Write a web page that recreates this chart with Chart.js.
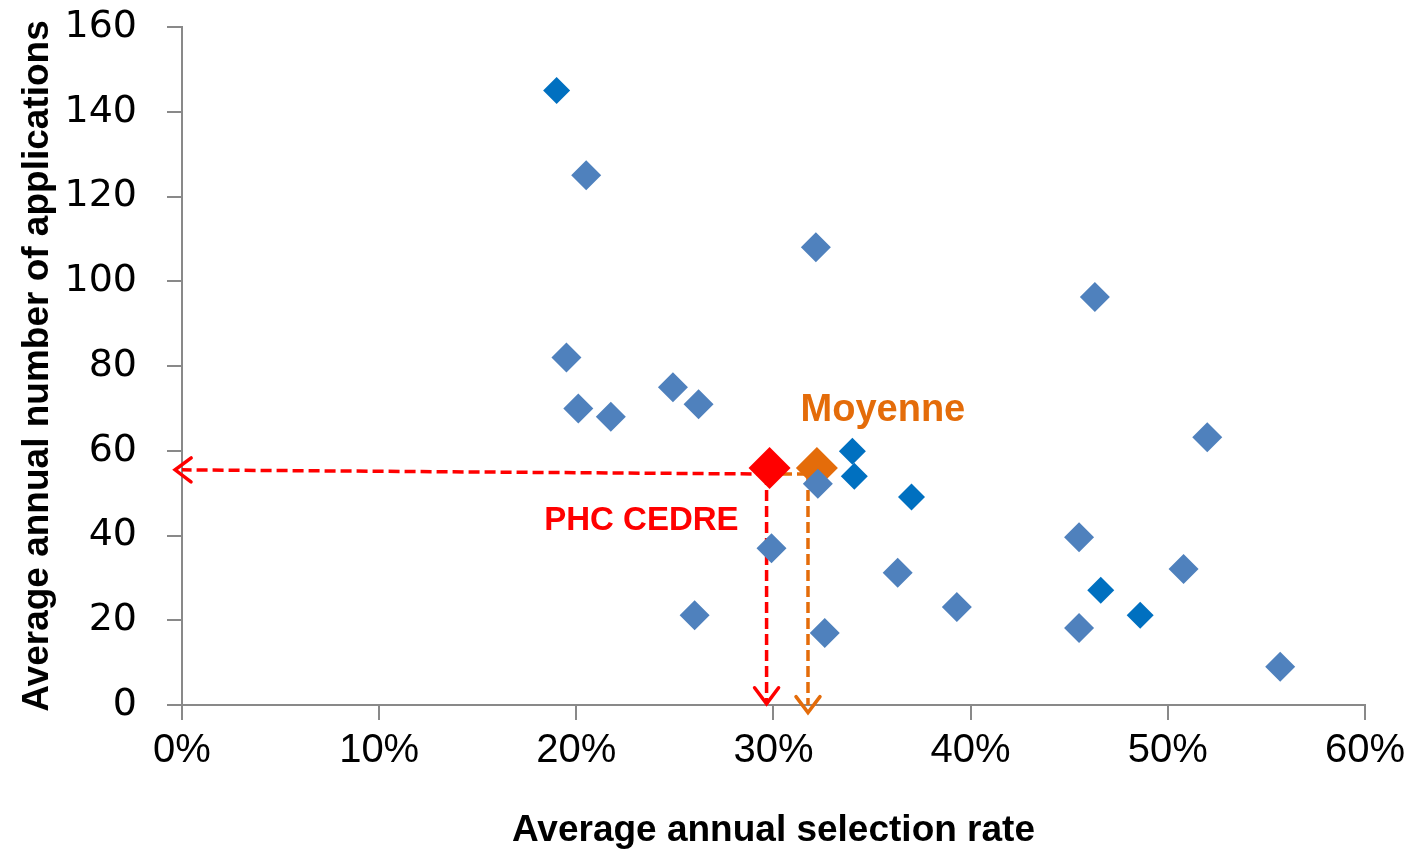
<!DOCTYPE html>
<html lang="en">
<head>
    <meta charset="UTF-8">
    <title>Applications vs selection rate</title>
    <script src="https://cdn.jsdelivr.net/npm/chart.js"></script>
    <style>
        html, body { margin: 0; padding: 0; background: #fff; }
        #wrap { width: 1412px; height: 849px; }
    </style>
</head>
<body>
    <div id="wrap"><canvas id="scatter"></canvas></div>
    <script>
        // programmes (light blue markers)
        const rateA = [20.5, 32.15, 46.3, 19.5, 20.1, 21.75, 24.9, 26.2, 52.0, 32.25, 29.9, 45.5, 36.3, 50.8, 26.0, 39.3, 32.6, 45.5, 55.7];
        const appsA = [125, 108, 96.3, 82, 70, 68, 75, 71, 63.2, 52.2, 37, 39.6, 31.2, 32.1, 21.2, 23.1, 17, 18.2, 9];
        // programmes (dark blue markers)
        const rateB = [19.0, 34.0, 34.1, 37.0, 46.6, 48.6];
        const appsB = [145, 59.9, 54, 49.1, 27.1, 21.2];
        // highlighted points
        const phcCedre = { rate: 29.8, apps: 55.9 };
        const moyenne = { rate: 32.2, apps: 55.9 };
        // dashed guide lines (rate, apps)
        const redHoriz = [[29.7, 54.5], [-0.35, 55.5]];
        const orangeHoriz = [[31.75, 54.5], [29.7, 54.5]];
        const redVert = [[29.65, 54.5], [29.65, 0.3]];
        const orangeVert = [[31.75, 54.5], [31.75, -1.8]];
        const xTicks = [0, 10, 20, 30, 40, 50, 60];

        const pts = (xs, ys) => xs.map((x, i) => ({ x: x, y: ys[i] }));
        const seg = s => s.map(p => ({ x: p[0], y: p[1] }));

        const arrowPlugin = {
            id: 'arrows',
            afterDatasetsDraw(chart) {
                const ctx = chart.ctx;
                chart.data.datasets.forEach((ds, i) => {
                    if (!ds.arrow) return;
                    const meta = chart.getDatasetMeta(i);
                    const n = meta.data.length;
                    const a = meta.data[n - 2], b = meta.data[n - 1];
                    const ang = Math.atan2(b.y - a.y, b.x - a.x);
                    const back = 16, side = 12;
                    ctx.save();
                    ctx.strokeStyle = ds.borderColor;
                    ctx.lineWidth = 3.5;
                    ctx.lineCap = 'round';
                    ctx.lineJoin = 'miter';
                    ctx.beginPath();
                    const bx = b.x - Math.cos(ang) * back, by = b.y - Math.sin(ang) * back;
                    ctx.moveTo(bx - Math.sin(ang) * side, by + Math.cos(ang) * side);
                    ctx.lineTo(b.x, b.y);
                    ctx.lineTo(bx + Math.sin(ang) * side, by - Math.cos(ang) * side);
                    ctx.stroke();
                    ctx.restore();
                });
            }
        };

        const labelPlugin = {
            id: 'pointLabels',
            afterDatasetsDraw(chart) {
                const ctx = chart.ctx;
                const xs = chart.scales.x, ys = chart.scales.y;
                const items = [
                    { text: 'Moyenne', x: 35.55, y: 69.6, color: '#E46C0A', size: 38 },
                    { text: 'PHC CEDRE', x: 23.3, y: 43.4, color: '#FF0000', size: 33 }
                ];
                ctx.save();
                ctx.textAlign = 'center';
                ctx.textBaseline = 'middle';
                items.forEach(it => {
                    ctx.font = 'bold ' + it.size + 'px "Liberation Sans", Arial, sans-serif';
                    ctx.fillStyle = it.color;
                    ctx.fillText(it.text, xs.getPixelForValue(it.x), ys.getPixelForValue(it.y));
                });
                ctx.restore();
            }
        };

        const dashed = (data, color) => ({
            type: 'line',
            data: seg(data),
            borderColor: color,
            borderWidth: 3.5,
            borderDash: [11, 5],
            pointRadius: 0,
            fill: false
        });

        const axisGrey = '#898989';

        new Chart(document.getElementById('scatter'), {
            type: 'scatter',
            data: {
                datasets: [
                    {
                        data: pts(rateB, appsB),
                        pointStyle: 'rectRot', pointRadius: 13.5, pointHoverRadius: 13.5,
                        backgroundColor: '#0070C0', borderWidth: 0
                    },
                    {
                        data: pts(rateA, appsA),
                        pointStyle: 'rectRot', pointRadius: 15, pointHoverRadius: 15,
                        backgroundColor: '#4F81BD', borderWidth: 0
                    },
                    {
                        data: [{ x: moyenne.rate, y: moyenne.apps }],
                        pointStyle: 'rectRot', pointRadius: 21, pointHoverRadius: 21,
                        backgroundColor: '#E46C0A', borderWidth: 0
                    },
                    {
                        data: [{ x: phcCedre.rate, y: phcCedre.apps }],
                        pointStyle: 'rectRot', pointRadius: 21, pointHoverRadius: 21,
                        backgroundColor: '#FF0000', borderWidth: 0
                    },
                    dashed(orangeHoriz, '#E46C0A'),
                    Object.assign(dashed(redHoriz, '#FF0000'), { arrow: true }),
                    Object.assign(dashed(redVert, '#FF0000'), { arrow: true }),
                    Object.assign(dashed(orangeVert, '#E46C0A'), { arrow: true })
                ]
            },
            options: {
                responsive: true,
                maintainAspectRatio: false,
                animation: false,
                layout: { padding: { left: 0, right: 47, top: 27, bottom: 0 } },
                plugins: {
                    legend: { display: false },
                    tooltip: { enabled: false }
                },
                scales: {
                    x: {
                        type: 'linear',
                        min: 0, max: 60,
                        afterBuildTicks: s => { s.ticks = xTicks.map(v => ({ value: v })); },
                        afterFit: s => { s.height = 144; },
                        border: { color: axisGrey, width: 2 },
                        grid: { drawOnChartArea: false, drawTicks: true, tickLength: 15, color: axisGrey, lineWidth: 2 },
                        ticks: {
                            padding: 7,
                            color: '#000',
                            font: { family: '"Liberation Sans", Arial, sans-serif', size: 40 },
                            callback: v => v + '%'
                        },
                        title: {
                            display: true,
                            text: 'Average annual selection rate',
                            color: '#000',
                            font: { family: '"Liberation Sans", Arial, sans-serif', size: 37, weight: 'bold', lineHeight: 1 },
                            padding: { top: 0, bottom: 0 }
                        }
                    },
                    y: {
                        min: 0, max: 160,
                        afterFit: s => { s.width = 182; s.paddingTop = 0; s.paddingBottom = 0; },
                        border: { color: axisGrey, width: 2 },
                        grid: { drawOnChartArea: false, drawTicks: true, tickLength: 15, color: axisGrey, lineWidth: 2 },
                        ticks: {
                            stepSize: 20,
                            padding: 30,
                            color: '#000',
                            font: { family: '"DejaVu Sans", Verdana, sans-serif', size: 38 }
                        },
                        title: {
                            display: true,
                            text: 'Average annual number of applications',
                            color: '#000',
                            font: { family: '"Liberation Sans", Arial, sans-serif', size: 37, weight: 'bold', lineHeight: 1 },
                            padding: { top: 19, bottom: 0 }
                        }
                    }
                }
            },
            plugins: [arrowPlugin, labelPlugin]
        });
    </script>
</body>
</html>
